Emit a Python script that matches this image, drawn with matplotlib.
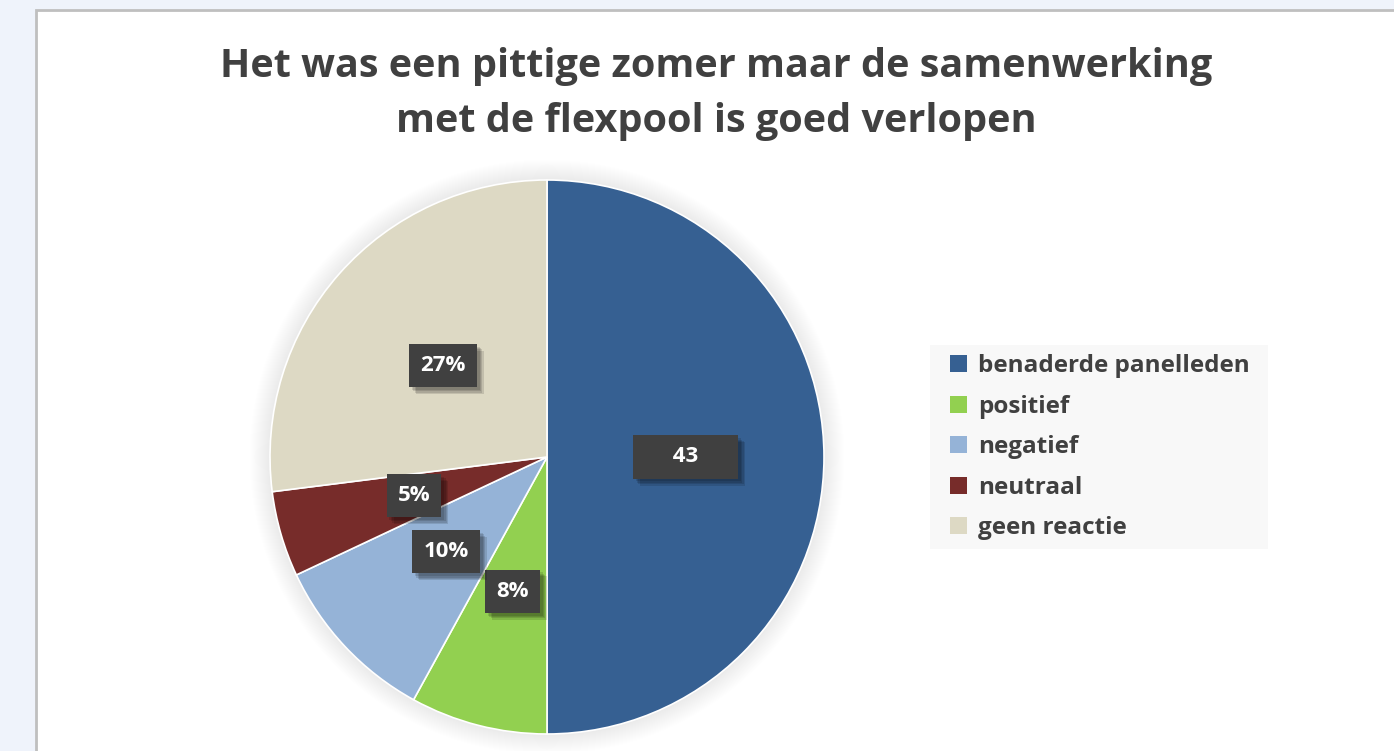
import matplotlib
matplotlib.use("Agg")
import matplotlib.pyplot as plt
from matplotlib.patches import Rectangle, Circle, Patch
import matplotlib.patheffects as pe
import numpy as np

categories = ["benaderde panelleden", "positief", "negatief", "neutraal", "geen reactie"]
shares = [50, 8, 10, 5, 27]
label_texts = ["43", "8%", "10%", "5%", "27%"]
colors = ["#366092", "#92D050", "#95B3D7", "#772C2A", "#DDD9C4"]
title = "Het was een pittige zomer maar de samenwerking\nmet de flexpool is goed verlopen"

plt.rcParams['font.family'] = ['Open Sans', 'DejaVu Sans']

W, H = 1394, 751
fig = plt.figure(figsize=(W / 100, H / 100), dpi=100)
fig.patch.set_facecolor("#EFF3FB")

# white chart panel
fig.patches.append(Rectangle((36 / W, -0.05), 1.1, (H - 10) / H + 0.05, transform=fig.transFigure,
                             facecolor="white", edgecolor="#BFBFBF", linewidth=2, zorder=-5))

fig.text(716 / W, (H - 94) / H, title, ha="center", va="center", fontsize=28.5,
         fontweight="bold", color="#404040", linespacing=1.55)

cx, cy, r = 547, 457, 277
ax = fig.add_axes([(cx - r) / W, (H - cy - r) / H, 2 * r / W, 2 * r / H])
ax.set_facecolor("none")

# soft halo shadow
for i in range(22):
    ax.add_patch(Circle((0, 0), 1.0 + i * 0.0035, facecolor="black", alpha=0.0055,
                        edgecolor="none", zorder=0, clip_on=False))

wedges, _ = ax.pie(shares, colors=colors, startangle=90, counterclock=False,
                   wedgeprops=dict(edgecolor="white", linewidth=1.2))
for w in wedges:
    w.set_zorder(2)
ax.set_xlim(-1, 1)
ax.set_ylim(-1, 1)
ax.axis("off")

shadow = [pe.SimplePatchShadow(offset=(o, -o), alpha=0.12, shadow_rgbFace="black")
          for o in (5, 4, 3, 2)] + [pe.Normal()]
for w, lab in zip(wedges, label_texts):
    ang = np.deg2rad((w.theta1 + w.theta2) / 2)
    x, y = 0.5 * np.cos(ang), 0.5 * np.sin(ang)
    txt = "     " + lab + "     " if lab == "43" else lab
    t = ax.text(x, y, txt, ha="center", va="center", fontsize=16, fontweight="bold",
                color="white", zorder=5,
                bbox=dict(boxstyle="square,pad=0.5", facecolor="#404040", edgecolor="none"))
    t.get_bbox_patch().set_path_effects(shadow)

handles = [Patch(facecolor=c, edgecolor="none") for c in colors]
leg = fig.legend(handles, categories, loc="upper left",
                 bbox_to_anchor=(943 / W, (H - 347) / H),
                 frameon=False, fontsize=17.5, handlelength=0.7, handleheight=0.7,
                 handletextpad=0.45, labelspacing=0.68, borderpad=0.3,
                 borderaxespad=0)
for t in leg.get_texts():
    t.set_color("#404040")
    t.set_fontweight("bold")

fig.canvas.draw()
bb = leg.get_window_extent()
fig.patches.append(Rectangle(((bb.x0 - 13) / W, (H - 549) / H), (bb.width + 24) / W, (549 - 345) / H,
                             transform=fig.transFigure, facecolor="#F8F8F8",
                             edgecolor="none", zorder=-1))

fig.savefig("out.png", dpi=100, facecolor=fig.get_facecolor())
